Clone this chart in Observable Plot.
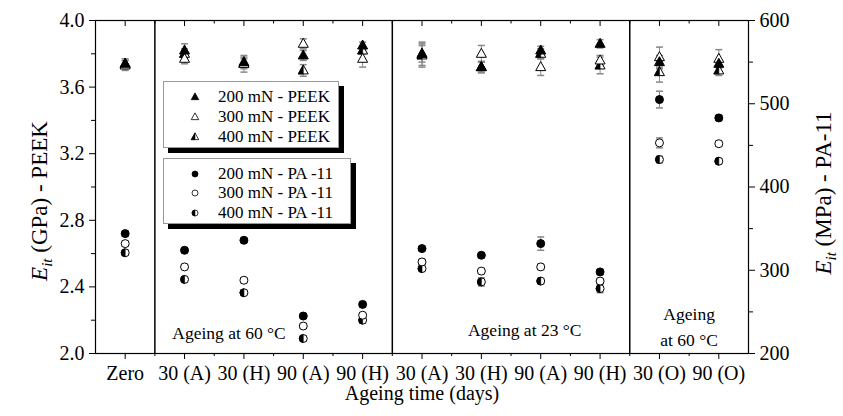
<!DOCTYPE html>
<html><head><meta charset="utf-8">
<script src="https://cdn.jsdelivr.net/npm/d3@7"></script>
<script src="https://cdn.jsdelivr.net/npm/@observablehq/plot@0.6"></script>
<style>
body{margin:0;background:#fff;}
#wrap{position:relative;width:843px;height:416px;font-family:"Liberation Serif","Times New Roman",serif;background:#fff;}
.leg{position:absolute;box-sizing:border-box;background:#fff;border:1px solid #999;box-shadow:5px 5px 0 #000;font-size:17px;color:#000;}
.row{position:absolute;left:0;height:20px;line-height:20px;white-space:nowrap;}
.row svg{position:absolute;left:25px;top:4px;overflow:visible;}
.row span{position:absolute;left:54px;top:0;}
</style></head><body><div id="wrap"></div>
<script>
// ---- data ----
const categories = ["Zero","30 (A)","30 (H)","90 (A)","90 (H)","30 (A)","30 (H)","90 (A)","90 (H)","30 (O)","90 (O)"];
const groupSeparators = [0.5, 4.5, 8.5];

// PEEK, E_it in GPa
const peek200 = [3.74, 3.82, 3.75, 3.79, 3.85, 3.80, 3.72, 3.82, 3.86, 3.75, 3.74];
const peek300 = [3.73, 3.77, 3.74, 3.86, 3.77, 3.80, 3.80, 3.72, 3.76, 3.78, 3.77];
const peek400 = [3.74, 3.80, 3.74, 3.70, 3.82, 3.79, 3.72, 3.80, 3.73, 3.69, 3.70];
const peek200err = [0.03, 0.04, 0.03, 0.03, 0.02, 0.05, 0.03, 0.025, 0.025, 0.04, 0.02];
const peek300err = [0.03, 0.03, 0.03, 0.03, 0.05, 0.07, 0.05, 0.05, 0.03, 0.06, 0.055];
const peek400err = [0.02, 0.03, 0.05, 0.035, 0.02, 0.07, 0.035, 0.03, 0.05, 0.06, 0.03];

// PA-11, E_it in MPa
const pa200 = [344, 324, 336, 245, 259, 326, 318, 332, 298, 505, 483];
const pa300 = [332, 304, 288, 233, 246, 310, 299, 304, 287, 453, 452];
const pa400 = [321, 289, 273, 218, 240, 302, 286, 287, 278, 433, 431];
const pa200err = [3, 3, 3, 3, 3, 3, 3, 8, 3, 10, 3];
const pa300err = [3, 3, 3, 3, 3, 3, 3, 3, 3, 6, 3];
const pa400err = [3, 3, 3, 3, 3, 3, 5, 3, 5, 4, 3];

const leftTicks = [2.0, 2.4, 2.8, 3.2, 3.6, 4.0];
const leftMinor = [2.2, 2.6, 3.0, 3.4, 3.8];
const rightTicks = [200, 300, 400, 500, 600];
const rightMinor = [250, 350, 450, 550];

const legendPEEK = ["200 mN - PEEK", "300 mN - PEEK", "400 mN - PEEK"];
const legendPA = ["200 mN - PA -11", "300 mN - PA -11", "400 mN - PA -11"];
const xTitle = "Ageing time (days)";
const yLeftParts = ["E", "it", " (GPa) - PEEK"];
const yRightParts = ["E", "it", " (MPa) - PA-11"];
const notes = [
  {x: 1.75, y: 2.138, text: "Ageing at 60 °C"},
  {x: 6.73, y: 2.156, text: "Ageing at 23 °C"},
  {x: 9.5, y: 2.174, text: "Ageing\nat 60 °C"}
];

// ---- helpers ----
const toLeft = mpa => 2 + (mpa - 200) / 200;
const ident = v => v;
function rows(vals, errs, conv) {
  return vals.map((v, i) => ({i, y: conv(v), lo: conv(v - errs[i]), hi: conv(v + errs[i])}));
}
const tri = s => ({draw(c){ c.moveTo(0,-5.5*s); c.lineTo(5*s,3.5*s); c.lineTo(-5*s,3.5*s); c.closePath(); }});
const triLeft = s => ({draw(c){ c.moveTo(0,-5.5*s); c.lineTo(0,3.5*s); c.lineTo(-5*s,3.5*s); c.closePath(); }});
const circ = s => ({draw(c){ const r=4*s; c.moveTo(r,0); c.arc(0,0,r,0,2*Math.PI); c.closePath(); }});
const circLeft = s => ({draw(c){ const r=4*s; c.moveTo(0,-r); c.arc(0,0,r,-Math.PI/2,Math.PI/2,true); c.closePath(); }});
const cap = {draw(c){ c.moveTo(-3.5,0); c.lineTo(3.5,0); }};

const series = [
  {rows: rows(peek400, peek400err, ident), kind: "half", sym: tri, half: triLeft},
  {rows: rows(peek300, peek300err, ident), kind: "open", sym: tri},
  {rows: rows(peek200, peek200err, ident), kind: "full", sym: tri},
  {rows: rows(pa400, pa400err, toLeft), kind: "half", sym: circ, half: circLeft},
  {rows: rows(pa300, pa300err, toLeft), kind: "open", sym: circ},
  {rows: rows(pa200, pa200err, toLeft), kind: "full", sym: circ}
];

const errMarks = series.flatMap(s => [
  Plot.ruleX(s.rows, {x: "i", y1: "lo", y2: "hi", stroke: "#888", strokeWidth: 1}),
  Plot.dot(s.rows, {x: "i", y: "lo", symbol: cap, r: 3, stroke: "#888", fill: "none"}),
  Plot.dot(s.rows, {x: "i", y: "hi", symbol: cap, r: 3, stroke: "#888", fill: "none"})
]);
const dotMarks = series.flatMap(s => {
  if (s.kind === "full") return [Plot.dot(s.rows, {x: "i", y: "y", symbol: s.sym(1), r: 4, fill: "#000", stroke: "#000", strokeWidth: 1})];
  if (s.kind === "open") return [Plot.dot(s.rows, {x: "i", y: "y", symbol: s.sym(1), r: 4, fill: "#fff", stroke: "#000", strokeWidth: 1})];
  return [
    Plot.dot(s.rows, {x: "i", y: "y", symbol: s.sym(1), r: 4, fill: "#fff", stroke: "#000", strokeWidth: 1}),
    Plot.dot(s.rows, {x: "i", y: "y", symbol: s.half(1), r: 4, fill: "#000", stroke: "#000", strokeWidth: 0.6})
  ];
});

const majorX = d3.range(categories.length);
const minorX = d3.range(1, categories.length).map(i => i - 0.5);
const font = '"Liberation Serif","Times New Roman",serif';

const plot = Plot.plot({
  width: 843, height: 416,
  marginLeft: 95, marginRight: 95, marginTop: 20, marginBottom: 63,
  style: {fontFamily: font, fontSize: "20px", color: "#000", background: "#fff"},
  x: {type: "linear", domain: [-0.5, 10.5]},
  y: {domain: [2, 4]},
  marks: [
    Plot.ruleX(groupSeparators, {stroke: "#000", strokeWidth: 1.5}),
    Plot.frame({stroke: "#000", strokeWidth: 1.2}),
    Plot.axisX({anchor: "bottom", ticks: majorX, tickFormat: d => categories[d], tickSize: 6, tickPadding: 6, label: null}),
    Plot.axisX({anchor: "bottom", ticks: minorX, tickSize: 3, tickFormat: () => "", label: null}),
    Plot.ruleX(majorX, {x: d => d, y1: () => 4, y2: () => 4, insetBottom: -6, stroke: "#000"}),
    Plot.ruleX(minorX, {x: d => d, y1: () => 4, y2: () => 4, insetBottom: -3.5, stroke: "#000"}),
    Plot.axisY({anchor: "left", ticks: leftTicks, tickFormat: d3.format(".1f"), tickSize: 6, tickPadding: 5, label: null}),
    Plot.axisY({anchor: "left", ticks: leftMinor, tickSize: 4, tickFormat: () => "", label: null}),
    Plot.axisY({anchor: "right", ticks: rightTicks.map(toLeft), tickFormat: d => String(Math.round(200 + (d - 2) * 200)), tickSize: 6, tickPadding: 5, label: null}),
    Plot.axisY({anchor: "right", ticks: rightMinor.map(toLeft), tickSize: 4, tickFormat: () => "", label: null}),
    ...errMarks,
    ...dotMarks,
    Plot.text(notes, {x: "x", y: "y", text: "text", fontSize: 17.5, lineHeight: 1.49, fill: "#000"}),
    Plot.text([xTitle], {frameAnchor: "bottom", text: d => d, dy: 46, fontSize: 20, fill: "#000"}),
    Plot.text([yLeftParts.join("")], {frameAnchor: "left", textAnchor: "middle", text: d => d, rotate: -90, dx: -56, dy: 14, fontSize: 23, fill: "#000"}),
    Plot.text([yRightParts.join("")], {frameAnchor: "right", textAnchor: "middle", text: d => d, rotate: -90, dx: 75, dy: 6, fontSize: 23, fill: "#000"})
  ]
});

// rich text for axis titles (italic E with subscript it)
const NS = "http://www.w3.org/2000/svg";
function richLabel(parts) {
  const full = parts.join("");
  plot.querySelectorAll("text").forEach(t => {
    if (t.textContent === full) {
      t.textContent = "";
      const a = document.createElementNS(NS, "tspan"); a.setAttribute("font-style", "italic"); a.textContent = parts[0];
      const b = document.createElementNS(NS, "tspan"); b.setAttribute("font-style", "italic"); b.setAttribute("font-size", "15"); b.setAttribute("dy", "5"); b.textContent = parts[1];
      const c = document.createElementNS(NS, "tspan"); c.setAttribute("dy", "-5"); c.textContent = parts[2];
      t.append(a, b, c);
    }
  });
}
richLabel(yLeftParts);
richLabel(yRightParts);

const wrap = document.getElementById("wrap");
wrap.appendChild(plot);

// legends (overlaid inside the plot frame)
function symSVG(parts) {
  const svg = document.createElementNS(NS, "svg");
  svg.setAttribute("width", 12); svg.setAttribute("height", 12);
  const g = document.createElementNS(NS, "g"); g.setAttribute("transform", "translate(6,6)");
  parts.forEach(p => {
    const path = d3.path(); p.sym.draw(path);
    const el = document.createElementNS(NS, "path");
    el.setAttribute("d", path.toString());
    el.setAttribute("fill", p.fill); el.setAttribute("stroke", "#000"); el.setAttribute("stroke-width", p.sw);
    g.appendChild(el);
  });
  svg.appendChild(g);
  return svg;
}
function legendBox(left, top, w, h, labels, rowsY, shape, half) {
  const box = document.createElement("div");
  box.className = "leg";
  Object.assign(box.style, {left: left + "px", top: top + "px", width: w + "px", height: h + "px"});
  const syms = [
    [{sym: shape(0.75), fill: "#000", sw: 0.8}],
    [{sym: shape(0.75), fill: "#fff", sw: 0.8}],
    [{sym: shape(0.75), fill: "#fff", sw: 0.8}, {sym: half(0.75), fill: "#000", sw: 0.5}]
  ];
  labels.forEach((lab, k) => {
    const r = document.createElement("div");
    r.className = "row";
    r.style.top = (rowsY[k] - 10) + "px";
    r.appendChild(symSVG(syms[k]));
    const s = document.createElement("span"); s.textContent = lab;
    r.appendChild(s);
    box.appendChild(r);
  });
  wrap.appendChild(box);
}
legendBox(163, 81, 176, 67, legendPEEK, [15, 35, 54.5], tri, triLeft);
legendBox(163, 158, 188, 66, legendPA, [14.5, 34, 54], circ, circLeft);
</script></body></html>
